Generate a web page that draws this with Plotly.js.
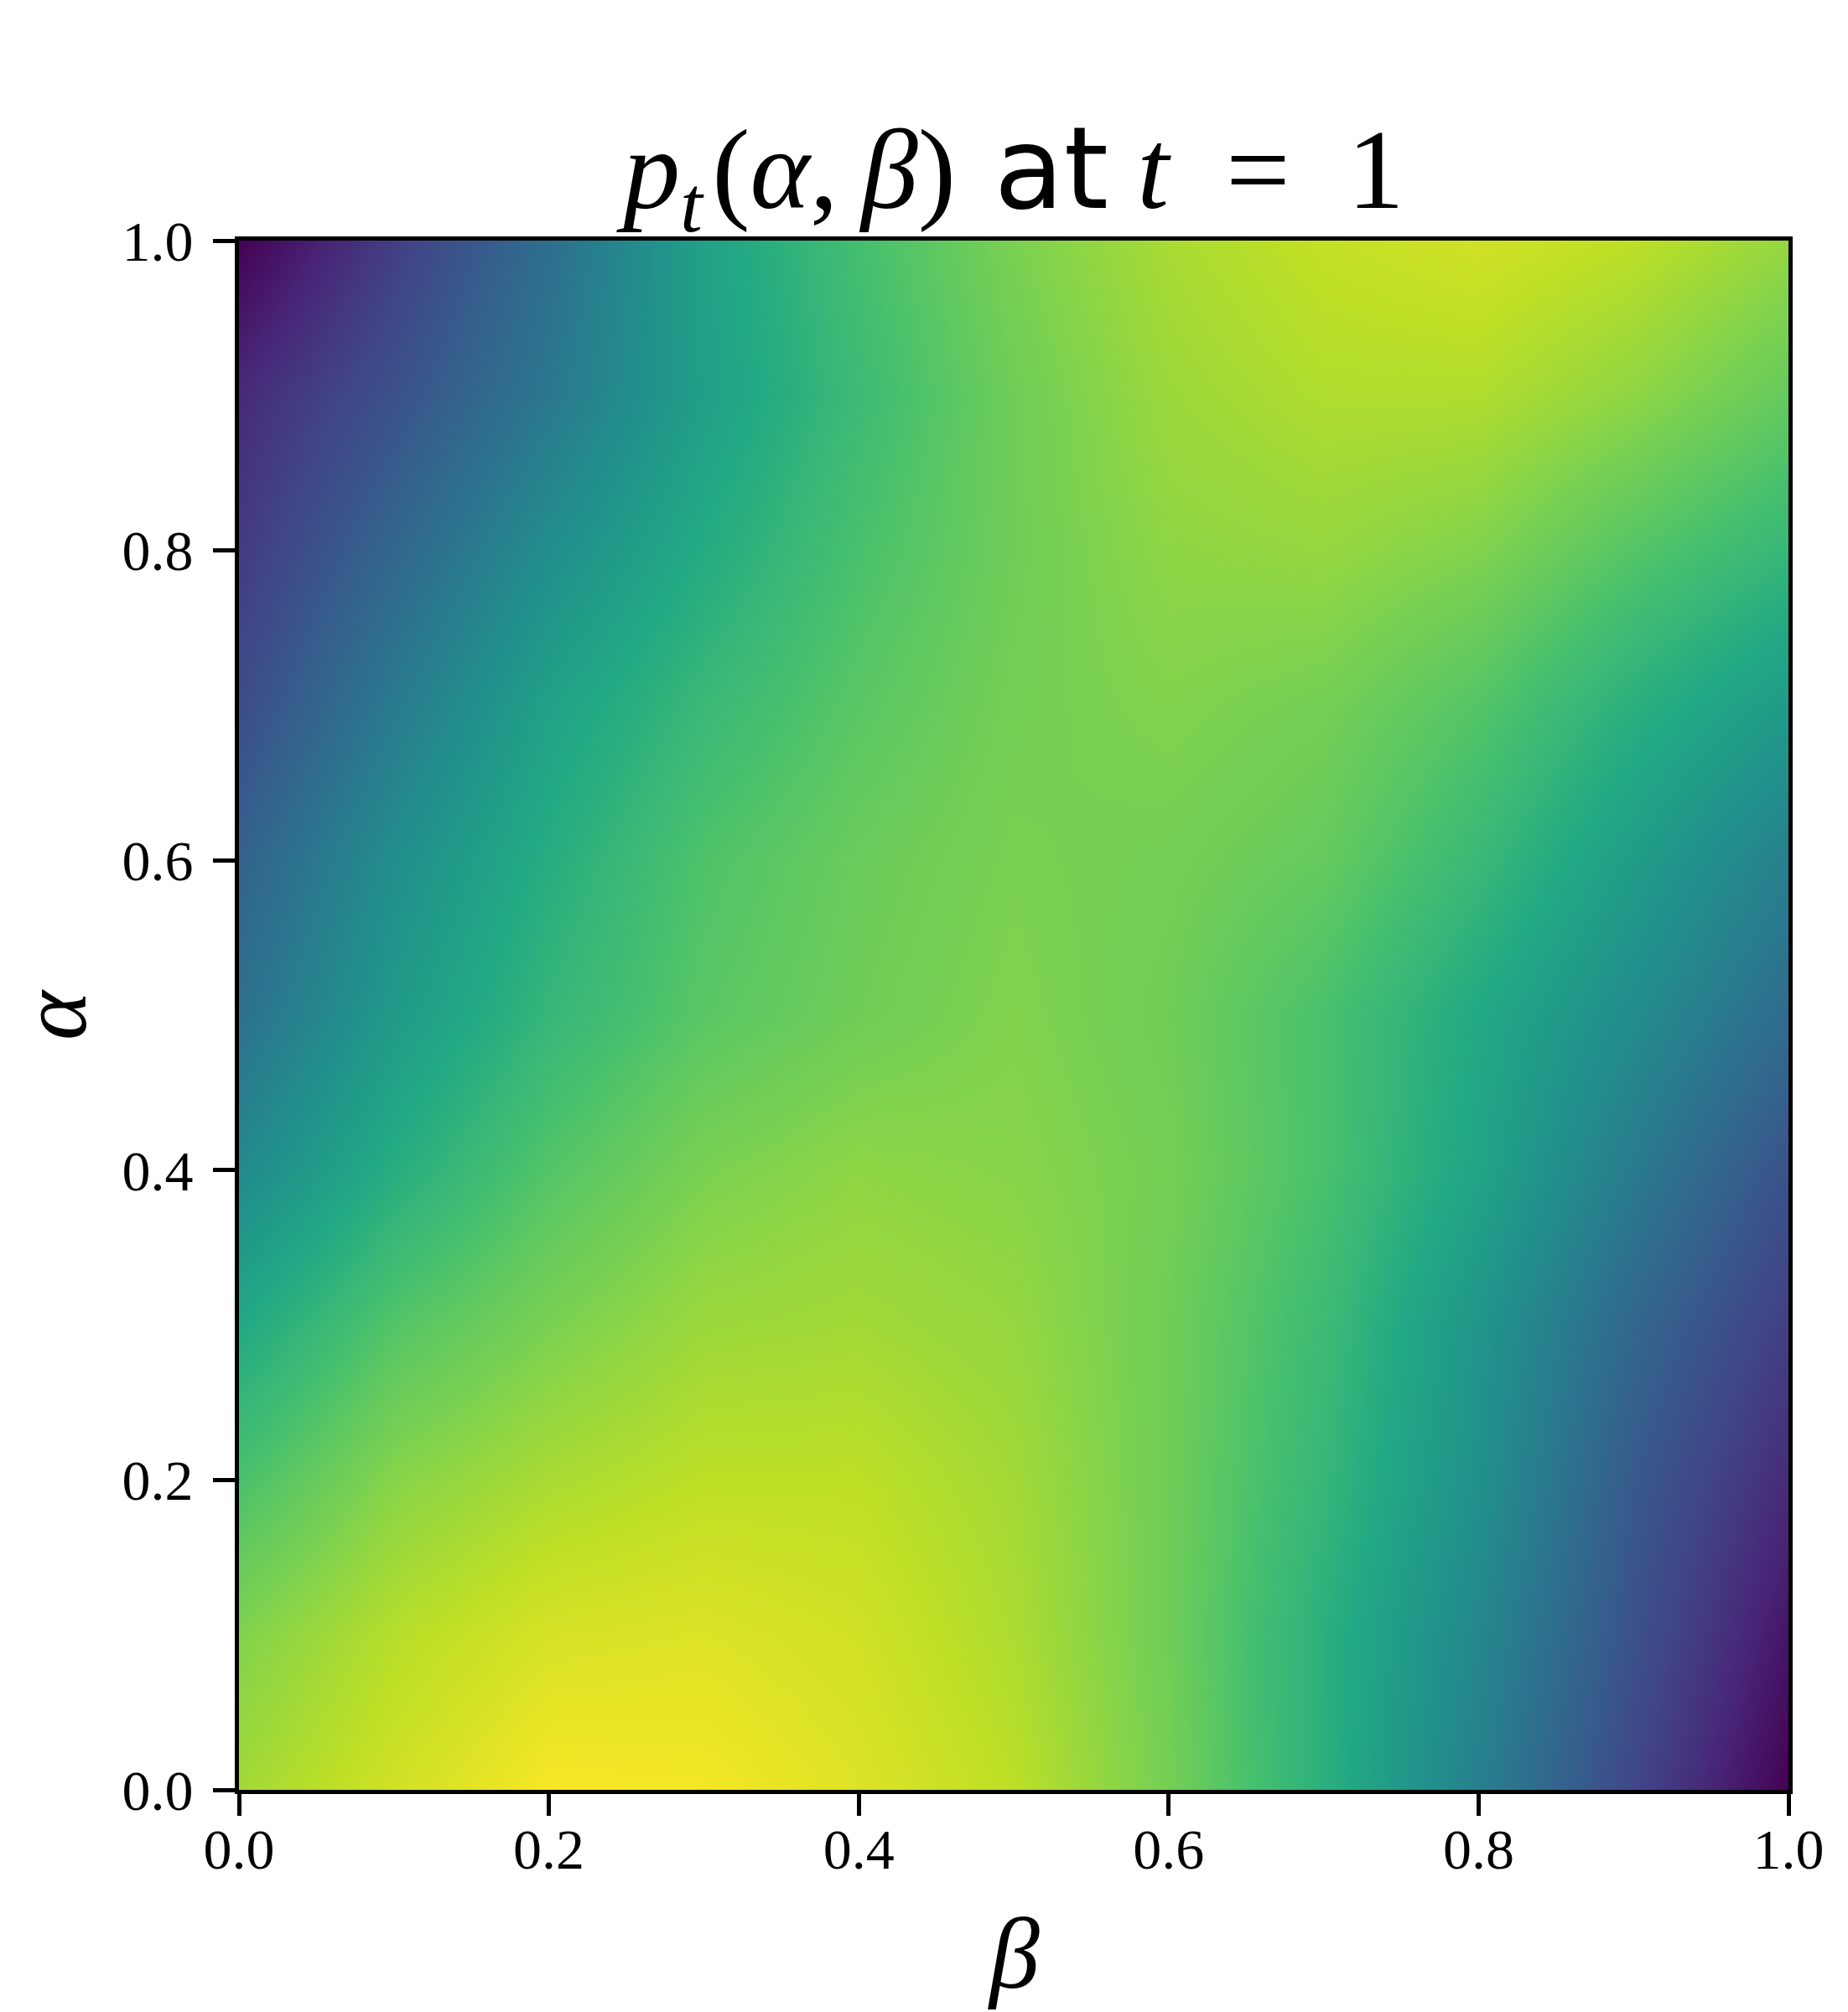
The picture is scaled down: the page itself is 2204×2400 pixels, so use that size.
<!DOCTYPE html>
<html>
<head>
<meta charset="utf-8">
<script src="https://cdn.plot.ly/plotly-3.0.1.min.js"></script>
<style>html,body{margin:0;padding:0;background:#fff;}</style>
</head>
<body>
<div id="chart" style="width:2204px;height:2400px;"></div>
<script>
// beta (x) and alpha (y) grid positions
const beta = [0.0, 0.1, 0.2, 0.3, 0.4, 0.5, 0.6, 0.7, 0.8, 0.9, 1.0];
const alpha = [0.0, 0.1, 0.2, 0.3, 0.4, 0.5, 0.6, 0.7, 0.8, 0.9, 1.0];

// p_t(alpha, beta) (relative scale), one row per alpha
const pRowA00 = [0.86, 0.93, 0.99, 0.985, 0.95, 0.90, 0.79, 0.63, 0.43, 0.21, 0.00];
const pRowA01 = [0.81, 0.89, 0.94, 0.95, 0.93, 0.875, 0.78, 0.63, 0.46, 0.25, 0.055];
const pRowA02 = [0.71, 0.82, 0.87, 0.90, 0.90, 0.86, 0.78, 0.66, 0.50, 0.28, 0.12];
const pRowA03 = [0.60, 0.73, 0.80, 0.85, 0.86, 0.84, 0.78, 0.68, 0.52, 0.33, 0.18];
const pRowA04 = [0.47, 0.62, 0.73, 0.80, 0.83, 0.82, 0.79, 0.71, 0.58, 0.41, 0.25];
const pRowA05 = [0.37, 0.54, 0.66, 0.74, 0.78, 0.81, 0.78, 0.71, 0.60, 0.48, 0.35];
const pRowA06 = [0.31, 0.49, 0.62, 0.72, 0.77, 0.80, 0.79, 0.76, 0.67, 0.55, 0.43];
const pRowA07 = [0.23, 0.41, 0.57, 0.67, 0.74, 0.79, 0.81, 0.79, 0.73, 0.63, 0.54];
const pRowA08 = [0.17, 0.33, 0.49, 0.61, 0.71, 0.78, 0.83, 0.84, 0.81, 0.73, 0.66];
const pRowA09 = [0.12, 0.25, 0.40, 0.56, 0.68, 0.78, 0.85, 0.88, 0.88, 0.83, 0.76];
const pRowA10 = [0.00, 0.18, 0.36, 0.57, 0.70, 0.80, 0.87, 0.91, 0.93, 0.90, 0.84];

const tickVals = [0.0, 0.2, 0.4, 0.6, 0.8, 1.0];
const tickText = ["0.0", "0.2", "0.4", "0.6", "0.8", "1.0"];

const z = [pRowA00, pRowA01, pRowA02, pRowA03, pRowA04, pRowA05,
           pRowA06, pRowA07, pRowA08, pRowA09, pRowA10];

const viridis = [
  [0.0, '#440154'], [0.1, '#482475'], [0.2, '#414487'], [0.3, '#355f8d'],
  [0.4, '#2a788e'], [0.5, '#21918c'], [0.6, '#22a884'], [0.7, '#44bf70'],
  [0.8, '#7ad151'], [0.9, '#bddf26'], [1.0, '#fde725']
];

const serif = '"Liberation Serif", "DejaVu Serif", serif';

const trace = {
  type: 'heatmap',
  x: beta,
  y: alpha,
  z: z,
  zmin: 0,
  zmax: 1,
  zsmooth: 'best',
  colorscale: viridis,
  showscale: false
};

const axisCommon = {
  range: [0, 1],
  tickvals: tickVals,
  ticktext: tickText,
  ticks: 'outside',
  ticklen: 26,
  tickwidth: 5,
  tickcolor: '#000',
  showline: true,
  linewidth: 5,
  linecolor: '#000',
  mirror: true,
  showgrid: false,
  zeroline: false,
  automargin: false,
  tickfont: {family: serif, size: 68, color: '#000'}
};

const layout = {
  width: 2204,
  height: 2400,
  margin: {l: 285, r: 71, t: 287, b: 265, pad: 0},
  paper_bgcolor: '#fff',
  plot_bgcolor: '#fff',
  title: {
    text: '<i>p</i><sub><i>t</i></sub>&#8202;(<i>α</i>,&#8201;<i>β</i>)&#8202; <span style="font-family:\'DejaVu Sans\'">at</span> <i>t</i>&#8194;=&#8194;1',
    font: {family: serif, size: 136, color: '#000'},
    x: 0.5, xanchor: 'center', xref: 'paper',
    y: 0.8967, yanchor: 'bottom', yref: 'container'
  },
  xaxis: Object.assign({}, axisCommon, {ticklabelstandoff: -19}),
  yaxis: Object.assign({}, axisCommon, {ticklabelstandoff: 10}),
  annotations: [
    {text: '<i>β</i>', xref: 'paper', yref: 'paper', x: 0.5, y: 0,
     xanchor: 'center', yanchor: 'middle', yshift: -195, showarrow: false,
     font: {family: serif, size: 120, color: '#000'}},
    {text: '<i>α</i>', xref: 'paper', yref: 'paper', x: 0, y: 0.5,
     xanchor: 'center', yanchor: 'middle', xshift: -221, textangle: -90, showarrow: false,
     font: {family: serif, size: 112, color: '#000'}}
  ],
  showlegend: false
};

Plotly.newPlot('chart', [trace], layout, {displayModeBar: false, staticPlot: true});
</script>
</body>
</html>
